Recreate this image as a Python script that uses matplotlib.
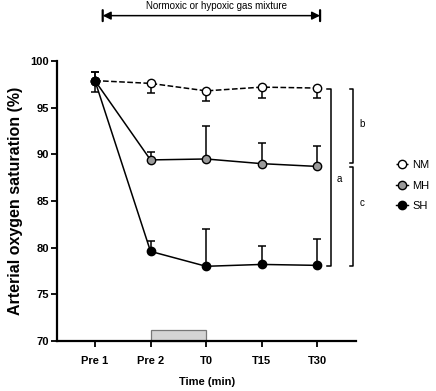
import matplotlib.pyplot as plt
from matplotlib.patches import Rectangle
from matplotlib.lines import Line2D

plt.rcParams['font.family'] = ['Liberation Sans', 'DejaVu Sans']

time_labels = ["Pre 1", "Pre 2", "T0", "T15", "T30"]
x = list(range(len(time_labels)))

nm_mean = [97.9, 97.6, 96.8, 97.2, 97.1]
nm_err_low = [1.2, 1.0, 1.05, 1.2, 1.1]

mh_mean = [97.9, 89.4, 89.5, 89.0, 88.7]
mh_err_up = [0.9, 0.8, 3.5, 2.2, 2.2]

sh_mean = [97.9, 79.6, 78.0, 78.2, 78.1]
sh_err_up = [0.9, 1.1, 4.0, 2.0, 2.8]

fig = plt.figure(figsize=(4.36, 3.91), dpi=100)
ax = fig.add_axes([0.131, 0.128, 0.686, 0.716])

lw = 1.1
ms = 6
# NM: dashed, lower error bars only
ax.errorbar(x, nm_mean, yerr=[nm_err_low, [0] * 5], fmt='o', ls='--', color='black',
            mfc='white', mec='black', ms=ms, lw=lw, capsize=3, capthick=lw, elinewidth=lw, zorder=3)
# MH: grey markers, upper error bars only
ax.errorbar(x, mh_mean, yerr=[[0] * 5, mh_err_up], fmt='o', ls='-', color='black',
            mfc='#9a9a9a', mec='black', ms=ms, lw=lw, capsize=3, capthick=lw, elinewidth=lw, zorder=4)
# SH: black markers, upper error bars only
ax.errorbar(x, sh_mean, yerr=[[0] * 5, sh_err_up], fmt='o', ls='-', color='black',
            mfc='black', mec='black', ms=ms, lw=lw, capsize=3, capthick=lw, elinewidth=lw, zorder=5)

ax.set_xlim(-0.68, 4.70)
ax.set_ylim(70, 100)
ax.set_yticks([70, 75, 80, 85, 90, 95, 100])
ax.set_xticks(x)
ax.set_xticklabels(time_labels)
for lab in ax.get_xticklabels() + ax.get_yticklabels():
    lab.set_fontweight('bold')
    lab.set_fontsize(8)
ax.tick_params(axis='both', direction='out', length=4, width=1.3, pad=2)
ax.tick_params(axis='x', pad=7)
for s in ['top', 'right']:
    ax.spines[s].set_visible(False)
for s in ['left', 'bottom']:
    ax.spines[s].set_linewidth(1.6)

ax.set_xlabel("Time (min)", fontsize=8, fontweight='bold', labelpad=8)
ax.set_ylabel("Arterial oxygen saturation (%)", fontsize=11.5, fontweight='bold', labelpad=5)

# grey exposure bar on the x axis
ax.add_patch(Rectangle((1, 70), 1, 1.2, facecolor='#d4d4d4', edgecolor='#777777',
                       lw=0.9, zorder=1, clip_on=False))

# significance brackets
def bracket(x0, x1, y0, y1):
    ax.plot([x0, x1, x1, x0], [y0, y0, y1, y1], color='black', lw=1.1, clip_on=False)

bracket(4.18, 4.24, 97.0, 78.0)
bracket(4.58, 4.64, 97.0, 89.1)
bracket(4.58, 4.64, 88.6, 78.0)
ax.text(4.39, 87.4, "a", fontsize=7, ha='center', va='center')
ax.text(4.81, 93.2, "b", fontsize=7, ha='center', va='center')
ax.text(4.81, 84.8, "c", fontsize=7, ha='center', va='center')

# top arrow for the gas mixture period
ax.annotate("", xy=(4.05, 0.96), xytext=(0.14, 0.96),
            xycoords=('data', 'figure fraction'), textcoords=('data', 'figure fraction'),
            arrowprops=dict(arrowstyle='<|-|>', color='black', lw=1.1,
                            mutation_scale=12, shrinkA=0, shrinkB=0))
for xe in [0.14, 4.05]:
    ax.annotate("", xy=(xe, 0.946), xytext=(xe, 0.974),
                xycoords=('data', 'figure fraction'), textcoords=('data', 'figure fraction'),
                arrowprops=dict(arrowstyle='-', color='black', lw=1.6, shrinkA=0, shrinkB=0))
fig.text(0.497, 0.985, "Normoxic or hypoxic gas mixture", fontsize=7, ha='center', va='center')

handles = [
    Line2D([0], [0], ls='--', color='black', marker='o', mfc='white', mec='black', ms=6, lw=1),
    Line2D([0], [0], ls='-', color='black', marker='o', mfc='#9a9a9a', mec='black', ms=6, lw=1),
    Line2D([0], [0], ls='-', color='black', marker='o', mfc='black', mec='black', ms=6, lw=1),
]
fig.legend(handles, ["NM", "MH", "SH"], loc='center left', bbox_to_anchor=(0.885, 0.525),
           frameon=False, fontsize=8, handlelength=1.1, handletextpad=0.4, labelspacing=0.95)

fig.savefig("out.png", dpi=100)
